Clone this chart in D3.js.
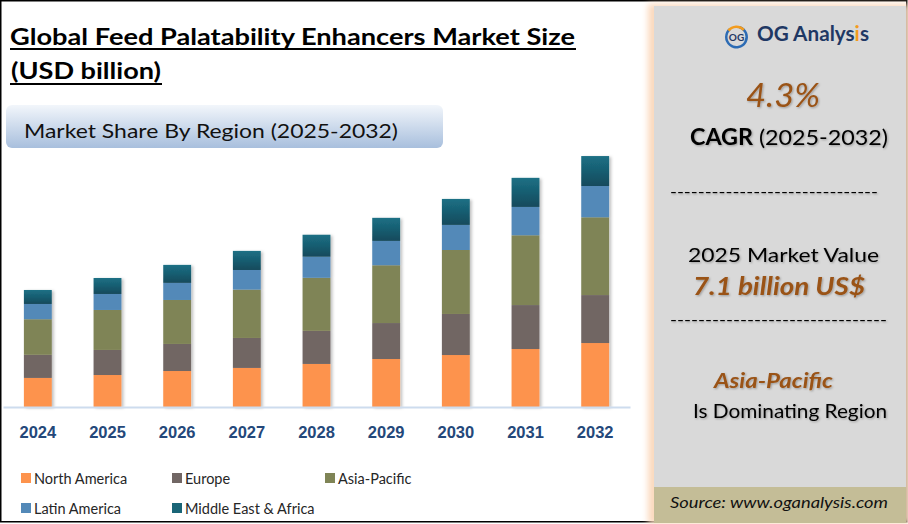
<!DOCTYPE html>
<html lang="en">
<head>
  <meta charset="UTF-8">
  <title>Global Feed Palatability Enhancers Market Size</title>
  <script src="https://d3js.org/d3.v7.min.js"></script>
  <style>
    body { margin: 0; background: #fff; }
    svg { display: block; font-family: Lato, "Open Sans", sans-serif; }
    .year { font-weight: bold; font-size: 16.5px; fill: #24487a; }
    .legend-label { font-size: 14.5px; fill: #262626; }
  </style>
</head>
<body>
  <svg width="908" height="524"></svg>

  <script>
    // data (USD billion)
    const years = ["2024", "2025", "2026", "2027", "2028", "2029", "2030", "2031", "2032"];
    const regions = ["North America", "Europe", "Asia-Pacific", "Latin America", "Middle East & Africa"];
    const northAmerica = [1.60, 1.76, 1.98, 2.15, 2.37, 2.64, 2.86, 3.19, 3.52];
    const europe       = [1.27, 1.38, 1.49, 1.65, 1.82, 1.98, 2.26, 2.42, 2.64];
    const asiaPacific  = [1.96, 2.20, 2.42, 2.66, 2.92, 3.18, 3.52, 3.84, 4.28];
    const latinAmerica = [0.84, 0.88, 0.94, 1.08, 1.16, 1.34, 1.38, 1.56, 1.72];
    const mea          = [0.77, 0.88, 0.99, 1.05, 1.21, 1.27, 1.43, 1.60, 1.65];

    const colors = ["#fd934d", "#716664", "#7f8456", "#5389b8", "url(#meaGrad)"];
    const legendColors = ["#fd934d", "#716664", "#7f8456", "#5389b8", "#1a6577"];

    const table = years.map((y, i) => ({
      year: y,
      "North America": northAmerica[i],
      "Europe": europe[i],
      "Asia-Pacific": asiaPacific[i],
      "Latin America": latinAmerica[i],
      "Middle East & Africa": mea[i]
    }));

    const svg = d3.select("svg");
    const defs = svg.append("defs");

    // stretch a text to span x0..x1 (the original font is wider than Lato)
    function fit(sel, x0, x1) {
      return sel.attr("x", x0).attr("text-anchor", "start")
        .attr("textLength", x1 - x0).attr("lengthAdjust", "spacingAndGlyphs");
    }

    // gradients and shadows
    const mg = defs.append("linearGradient").attr("id", "meaGrad")
      .attr("x1", 0).attr("y1", 0).attr("x2", 0).attr("y2", 1);
    mg.append("stop").attr("offset", "0%").attr("stop-color", "#1c7085");
    mg.append("stop").attr("offset", "100%").attr("stop-color", "#134a5c");

    const sg = defs.append("linearGradient").attr("id", "subGrad")
      .attr("x1", 0).attr("y1", 0).attr("x2", 0).attr("y2", 1);
    sg.append("stop").attr("offset", "0%").attr("stop-color", "#f2f6fb");
    sg.append("stop").attr("offset", "100%").attr("stop-color", "#a8bfdd");

    defs.append("filter").attr("id", "barShadow")
      .attr("x", "-20%").attr("y", "-10%").attr("width", "160%").attr("height", "130%")
      .append("feDropShadow").attr("dx", 2).attr("dy", 1).attr("stdDeviation", 1.5)
      .attr("flood-color", "#000").attr("flood-opacity", 0.25);

    defs.append("filter").attr("id", "txtShadow")
      .append("feDropShadow").attr("dx", 1).attr("dy", 1).attr("stdDeviation", 0.8)
      .attr("flood-color", "#000").attr("flood-opacity", 0.3);

    defs.append("filter").attr("id", "glow")
      .attr("x", "-10%").attr("y", "-10%").attr("width", "120%").attr("height", "120%")
      .append("feGaussianBlur").attr("stdDeviation", 3);

    // outer frame
    svg.append("rect").attr("x", 0.75).attr("y", 0.75).attr("width", 906).attr("height", 521)
      .attr("fill", "#fff").attr("stroke", "#000").attr("stroke-width", 1.5);

    // title
    fit(svg.append("text").attr("y", 45).attr("font-weight", "bold").attr("font-size", 23)
      .text("Global Feed Palatability Enhancers Market Size"), 10, 575);
    fit(svg.append("text").attr("y", 79).attr("font-weight", "bold").attr("font-size", 23)
      .text("(USD billion)"), 11, 161);
    svg.append("rect").attr("x", 10).attr("y", 48).attr("width", 566).attr("height", 2).attr("fill", "#000");
    svg.append("rect").attr("x", 10).attr("y", 83).attr("width", 152).attr("height", 2).attr("fill", "#000");

    // subtitle box
    svg.append("rect").attr("x", 6).attr("y", 105).attr("width", 437).attr("height", 43)
      .attr("rx", 6).attr("fill", "url(#subGrad)");
    fit(svg.append("text").attr("y", 138).attr("font-size", 20).attr("fill", "#111")
      .text("Market Share By Region (2025-2032)"), 24, 398);

    // scales
    const x = d3.scaleBand().domain(years).range([3, 630]).paddingInner(0.6).paddingOuter(0.3);
    const y = d3.scaleLinear().domain([0, 14]).range([407, 152.6]);

    const stack = d3.stack().keys(regions)(table);

    const g = svg.append("g").attr("filter", "url(#barShadow)");
    g.selectAll("g.series")
      .data(stack)
      .join("g")
        .attr("class", "series")
        .attr("fill", (d, i) => colors[i])
      .selectAll("rect")
      .data(d => d)
      .join("rect")
        .attr("x", d => x(d.data.year))
        .attr("y", d => y(d[1]))
        .attr("width", x.bandwidth())
        .attr("height", d => y(d[0]) - y(d[1]));

    // x axis
    const xAxis = svg.append("g").attr("transform", "translate(0,407)")
      .call(d3.axisBottom(x).tickSize(0).tickPadding(19));
    xAxis.select(".domain").attr("stroke", "#cddcee").attr("stroke-width", 2);
    xAxis.selectAll("text").attr("class", "year").attr("font-family", null).attr("font-size", null)
      .attr("fill", null);

    // legend
    const legendPos = [[21, 478], [172, 478], [325, 478], [21, 508], [172, 508]];
    const legend = svg.append("g").selectAll("g")
      .data(regions)
      .join("g")
        .attr("transform", (d, i) => `translate(${legendPos[i][0]},${legendPos[i][1]})`);
    legend.append("rect").attr("x", 0).attr("y", -5).attr("width", 10).attr("height", 10)
      .attr("fill", (d, i) => legendColors[i]);
    legend.append("text").attr("class", "legend-label").attr("x", 13).attr("y", 6).text(d => d);

    // right panel
    const panel = svg.append("g");
    panel.append("rect").attr("x", 648).attr("y", 4).attr("width", 262).attr("height", 520)
      .attr("fill", "#fbd9bd").attr("filter", "url(#glow)");
    panel.append("rect").attr("x", 654).attr("y", 6).attr("width", 252).attr("height", 516)
      .attr("fill", "#d9d9d9");
    panel.append("rect").attr("x", 654).attr("y", 487).attr("width", 252).attr("height", 36)
      .attr("fill", "#c4bd97");

    // logo
    const logo = panel.append("g").attr("transform", "translate(736.5,37)");
    const arc = d3.arc().innerRadius(9).outerRadius(11.5);
    logo.append("path").attr("d", arc({startAngle: 0.3, endAngle: 5.6})).attr("fill", "#2c6bb4");
    logo.append("path").attr("d", arc({startAngle: -0.9, endAngle: 0.8})).attr("fill", "#f39c1f");
    logo.append("text").attr("text-anchor", "middle").attr("y", 4).attr("font-size", 10)
      .attr("font-weight", "bold").attr("fill", "#1f3864").text("OG");
    const lt = fit(panel.append("text").attr("y", 41).attr("font-size", 20)
      .attr("font-weight", "bold").attr("fill", "#1f3864"), 757, 869);
    lt.append("tspan").text("OG Analys");
    lt.append("tspan").attr("fill", "#f39c1f").text("i");
    lt.append("tspan").text("s");

    const brown = "#9a5316";
    const ptxt = panel.append("g").attr("filter", "url(#txtShadow)");
    fit(ptxt.append("text").attr("y", 107).attr("font-size", 33).attr("font-style", "italic")
      .attr("fill", brown).text("4.3%"), 746, 820);
    const cagr = fit(ptxt.append("text").attr("y", 145).attr("font-size", 22).attr("fill", "#000"), 690, 888);
    cagr.append("tspan").attr("font-weight", "bold").text("CAGR");
    cagr.append("tspan").text(" (2025-2032)");
    fit(ptxt.append("text").attr("y", 197).attr("font-size", 16).attr("fill", "#000")
      .text("------------------------------"), 670, 878);
    fit(ptxt.append("text").attr("y", 262).attr("font-size", 20).attr("fill", "#000")
      .text("2025 Market Value"), 688, 879);
    fit(ptxt.append("text").attr("y", 295).attr("font-size", 24).attr("font-weight", "bold")
      .attr("font-style", "italic").attr("fill", brown).text("7.1 billion US$"), 693, 865);
    fit(ptxt.append("text").attr("y", 325).attr("font-size", 16).attr("fill", "#000")
      .text("-------------------------------"), 670, 887);
    fit(ptxt.append("text").attr("y", 388).attr("font-size", 21).attr("font-weight", "bold")
      .attr("font-style", "italic").attr("fill", brown).text("Asia-Pacific"), 714, 833);
    fit(ptxt.append("text").attr("y", 418).attr("font-size", 20).attr("fill", "#000")
      .text("Is Dominating Region"), 693, 887);

    fit(panel.append("text").attr("y", 508).attr("font-size", 16).attr("font-style", "italic")
      .attr("fill", "#111").text("Source: www.oganalysis.com"), 670, 888);
  </script>
</body>
</html>
